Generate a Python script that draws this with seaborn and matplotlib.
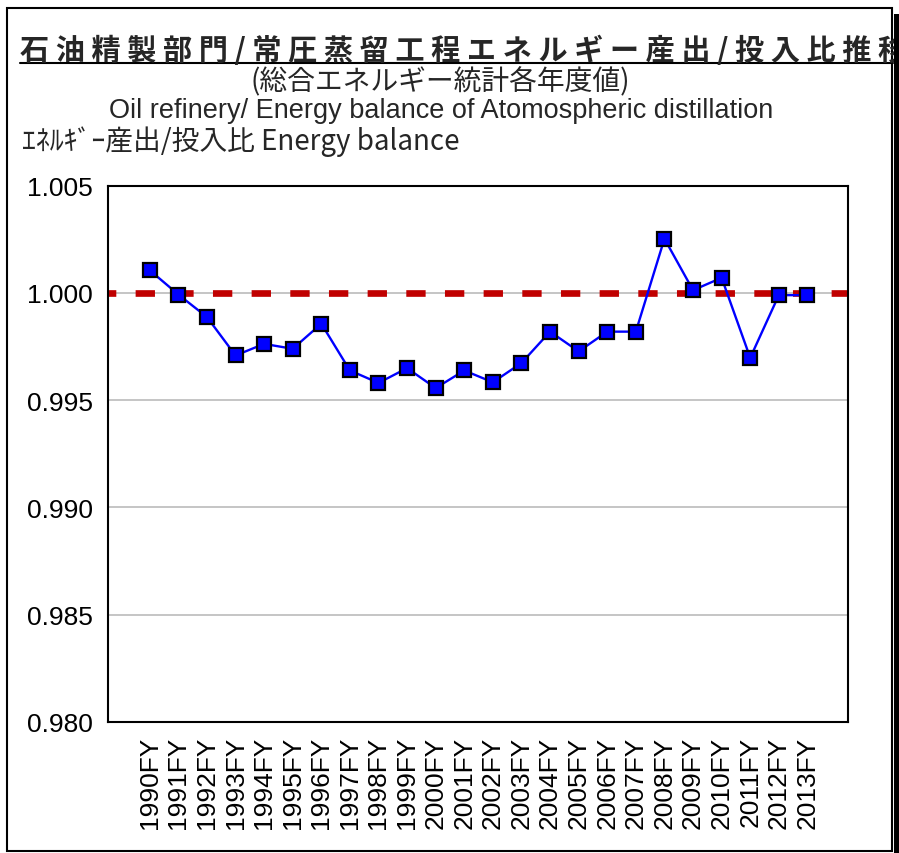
import pandas as pd
import matplotlib.pyplot as plt
import seaborn as sns
from matplotlib.patches import Rectangle
from matplotlib.lines import Line2D

W, H = 899, 854

fiscal_years = ["1990FY", "1991FY", "1992FY", "1993FY", "1994FY", "1995FY",
                "1996FY", "1997FY", "1998FY", "1999FY", "2000FY", "2001FY",
                "2002FY", "2003FY", "2004FY", "2005FY", "2006FY", "2007FY",
                "2008FY", "2009FY", "2010FY", "2011FY", "2012FY", "2013FY"]
energy_ratio = [1.00105, 0.99992, 0.99887, 0.99708, 0.99762, 0.99739,
                0.99856, 0.99638, 0.99580, 0.99649, 0.99556, 0.99638,
                0.99583, 0.99673, 0.99819, 0.99727, 0.99819, 0.99819,
                1.00252, 1.00012, 1.00070, 0.99697, 0.99989, 0.99989]
baseline = 1.000
y_ticks = [0.980, 0.985, 0.990, 0.995, 1.000, 1.005]

title_jp = "石油精製部門/常圧蒸留工程エネルギー産出/投入比推移"
subtitle_jp = "(総合エネルギー統計各年度値)"
subtitle_en = "Oil refinery/ Energy balance of Atomospheric distillation"
ylabel_txt = "ｴﾈﾙｷﾞｰ産出/投入比 Energy balance"

sns.set_style("white")
plt.rcParams["font.family"] = ["Liberation Sans", "DejaVu Sans"]
JP = ["Noto Sans CJK JP", "DejaVu Sans"]


def fx(x):
    return x / W


def fy(y):
    return 1 - y / H


df = pd.DataFrame({"year": fiscal_years, "ratio": energy_ratio})

fig = plt.figure(figsize=(W / 100, H / 100), dpi=100)
ax = fig.add_axes([fx(108), fy(723), fx(848.3 - 108), (723 - 186.5) / H])

# linha de referencia 1.000
ax.axhline(baseline, color="#C00000", lw=4.8, linestyle=(1.73, (2.9, 2.9)),
           dash_capstyle="butt", zorder=2)
sns.lineplot(data=df, x="year", y="ratio", sort=False, color="#0000FF", lw=1.7,
             marker="s", markersize=10, markerfacecolor="#0000FF",
             markeredgecolor="black", markeredgewidth=1.6, ax=ax, zorder=3)

ax.set_xlim(-1.46, 24.43)
ax.set_ylim(0.980, 1.005)
ax.set_yticks(y_ticks)
ax.set_yticklabels([f"{v:.3f}" for v in y_ticks])
ax.yaxis.grid(True, color="#C0C0C0", lw=1.3)
ax.xaxis.grid(False)
ax.set_axisbelow(True)
ax.set_xlabel("")
ax.set_ylabel("")
for s in ax.spines.values():
    s.set_color("black")
    s.set_linewidth(1.5)
ax.tick_params(axis="y", length=0, pad=11, labelsize=19, colors="black")
ax.tick_params(axis="x", direction="in", length=12.5, width=1.3, pad=10,
               labelsize=19, labelrotation=90, colors="black")

# textos
fig.text(fx(20), fy(60), " ".join(title_jp), fontsize=21, fontweight="bold",
         family=JP, ha="left", va="baseline", zorder=5)
fig.add_artist(Line2D([fx(20), fx(893)], [fy(63.5), fy(63.5)], color="black", lw=1.5))
fig.text(fx(440), fy(82), subtitle_jp, fontsize=20, family=JP, ha="center", va="center")
fig.text(fx(441), fy(111), subtitle_en, fontsize=19.5, ha="center", va="center")
fig.text(fx(22), fy(142), ylabel_txt, fontsize=20, family=JP, ha="left", va="center")

# moldura
fig.add_artist(Rectangle((fx(7), fy(852)), fx(892 - 7), (852 - 9) / H, fill=False,
                         ec="black", lw=1.5, transform=fig.transFigure))
fig.add_artist(Rectangle((fx(894), fy(854)), fx(5), (854 - 15) / H, fc="black",
                         ec="none", transform=fig.transFigure, zorder=6))

plt.savefig("out.png", dpi=100)
plt.close()
